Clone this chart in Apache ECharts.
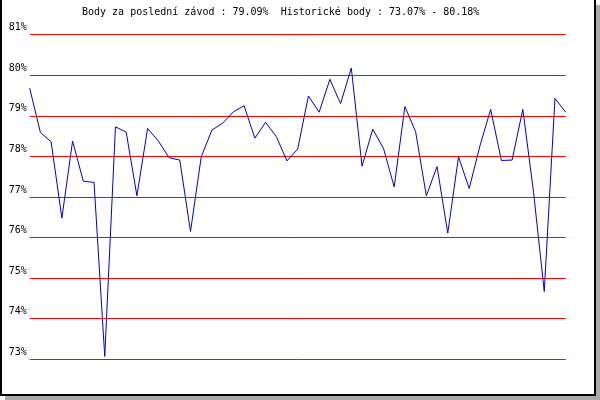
<!DOCTYPE html>
<html>
<head>
<meta charset="utf-8">
<script src="https://cdn.jsdelivr.net/npm/echarts@6/dist/echarts.min.js"></script>
<style>
  html, body { margin: 0; padding: 0; background: #fff; }
  #chart { width: 600px; height: 400px; }
</style>
</head>
<body>
<div id="chart"></div>
<script>
// body za jednotlive zavody (v %)
const races = [];
const points = [
  79.68, 78.59, 78.36, 76.48, 78.38, 77.39, 77.36, 73.07, 78.73, 78.60,
  77.03, 78.69, 78.38, 77.97, 77.91, 76.15, 77.99, 78.65, 78.82, 79.10,
  79.25, 78.45, 78.84, 78.49, 77.89, 78.18, 79.49, 79.09, 79.90, 79.30,
  80.18, 77.76, 78.67, 78.20, 77.25, 79.23, 78.61, 77.03, 77.75, 76.11,
  77.99, 77.21, 78.26, 79.16, 77.90, 77.91, 79.16, 77.12, 74.67, 79.43,
  79.09
];
for (let i = 0; i < points.length; i++) races.push(String(i + 1));

const yMin = 73;
const yMax = 81;
const titleText = "Body za poslední závod : 79.09%  Historické body : 73.07% - 80.18%";

const chart = echarts.init(document.getElementById("chart"));
const font = "DejaVu Sans Mono";

const option = {
  animation: false,
  backgroundColor: "#fff",
  title: {
    text: titleText,
    left: 82,
    top: 7,
    padding: 0,
    textStyle: { fontFamily: font, fontSize: 10, fontWeight: "normal", color: "#000" }
  },
  grid: { left: 29.7, right: 34.3, top: 34.7, bottom: 40.7 },
  xAxis: {
    type: "category",
    data: races,
    boundaryGap: false,
    axisLine: { show: false },
    axisTick: { show: false },
    axisLabel: { show: false },
    splitLine: { show: false }
  },
  yAxis: {
    type: "value",
    min: yMin,
    max: yMax,
    interval: 1,
    axisLine: { show: false },
    axisTick: { show: false },
    axisLabel: {
      formatter: "{value}%",
      fontFamily: font,
      fontSize: 10,
      color: "#000",
      margin: 3,
      verticalAlign: "bottom",
      padding: [0, 0, 2, 0]
    },
    splitLine: { lineStyle: { color: "#ff0000", width: 1 } }
  },
  graphic: [
    // stin
    { type: "rect", shape: { x: 596, y: 5, width: 4, height: 395 }, style: { fill: "#aaaaaa" }, silent: true },
    { type: "rect", shape: { x: 5, y: 396, width: 595, height: 4 }, style: { fill: "#aaaaaa" }, silent: true },
    // ramecek
    { type: "rect", shape: { x: 0, y: 0, width: 2, height: 396 }, style: { fill: "#000" }, silent: true },
    { type: "rect", shape: { x: 594, y: 0, width: 2, height: 396 }, style: { fill: "#000" }, silent: true },
    { type: "rect", shape: { x: 0, y: 394, width: 596, height: 2 }, style: { fill: "#000" }, silent: true }
  ],
  series: [
    {
      type: "line",
      data: points,
      symbol: "none",
      lineStyle: { color: "#0000cc", width: 1 }
    }
  ]
};

chart.setOption(option);
</script>
</body>
</html>
